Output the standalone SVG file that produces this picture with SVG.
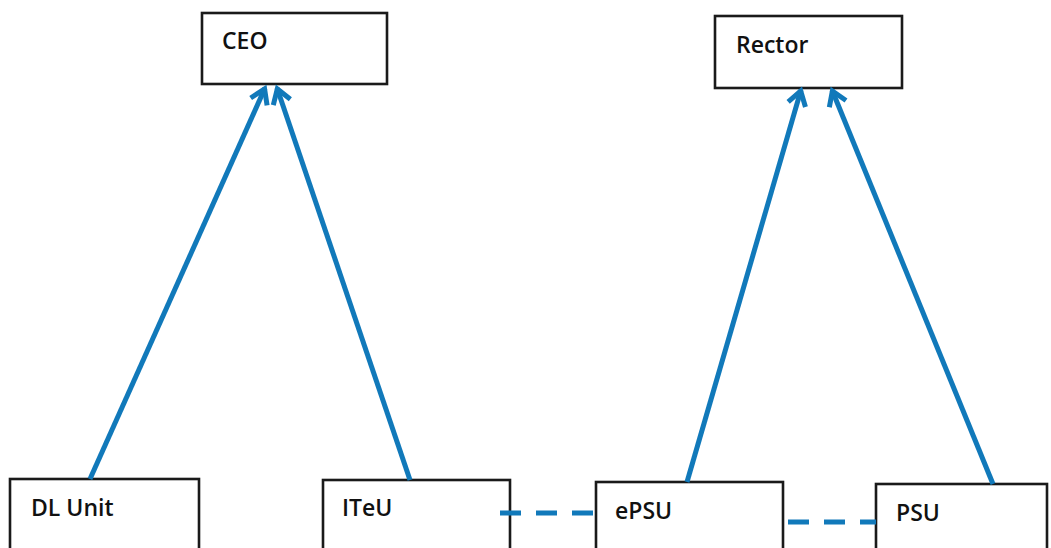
<svg xmlns="http://www.w3.org/2000/svg" width="1051" height="548" viewBox="0 0 1051 548">
<style>
.box{fill:#fff;stroke:#1a1a1a;stroke-width:2.6}
.lbl{font-family:"Open Sans","Liberation Sans",sans-serif;font-size:23px;font-weight:600;fill:#111}
.arr{stroke:#1179ba;stroke-width:5;fill:none;marker-end:url(#ah)}
.dash{stroke:#1179ba;stroke-width:5;fill:none;stroke-dasharray:21 15}
</style>
<defs>
<marker id="ah" markerUnits="userSpaceOnUse" viewBox="-20 -12 24 24" refX="0" refY="0" markerWidth="24" markerHeight="24" orient="auto">
<path d="M-15,-9 L-1,0 L-15,9" fill="none" stroke="#1179ba" stroke-width="5" stroke-linejoin="miter"/>
</marker>
</defs>
<rect width="1051" height="548" fill="#fff"/>
<g id="CEO"><rect class="box" x="202" y="13" width="185" height="71"/><text class="lbl" x="222" y="49">CEO</text></g>
<g id="Rector"><rect class="box" x="715" y="16" width="187" height="72"/><text class="lbl" x="736" y="53">Rector</text></g>
<g id="DLUnit"><rect class="box" x="10" y="479" width="189" height="80"/><text class="lbl" x="31" y="516">DL Unit</text></g>
<g id="ITeU"><rect class="box" x="323" y="480" width="187" height="80"/><text class="lbl" x="342" y="516">ITeU</text></g>
<g id="ePSU"><rect class="box" x="596" y="482" width="187" height="80"/><text class="lbl" x="615" y="519">ePSU</text></g>
<g id="PSU"><rect class="box" x="876" y="484" width="171" height="80"/><text class="lbl" x="896" y="521">PSU</text></g>
<g id="connectors">
<line class="arr" x1="90" y1="479" x2="265" y2="88"/>
<line class="arr" x1="410" y1="480" x2="277" y2="88"/>
<line class="arr" x1="687" y1="482" x2="801" y2="90"/>
<line class="arr" x1="993" y1="484" x2="832" y2="90"/>
<line class="dash" x1="500" y1="513" x2="596" y2="513"/>
<line class="dash" x1="788" y1="522" x2="876" y2="522"/>
</g>
</svg>
